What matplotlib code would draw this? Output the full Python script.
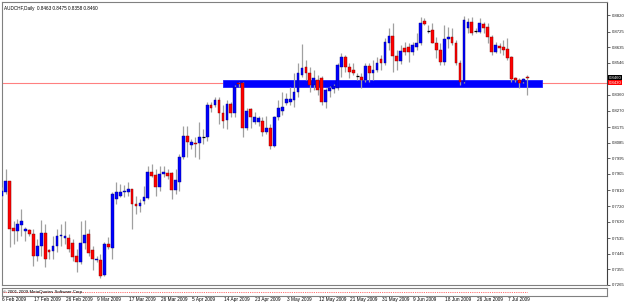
import matplotlib
matplotlib.use("Agg")
import matplotlib.pyplot as plt
import matplotlib.transforms as mtransforms

# ---------------- data (AUDCHF daily candles) ----------------
opens = [0.7777, 0.7800, 0.7863, 0.7594, 0.7577, 0.7611, 0.7577, 0.7582, 0.7559, 0.7433,
         0.7491, 0.7565, 0.7468, 0.7462, 0.7491, 0.7548, 0.7537, 0.7537, 0.7508, 0.7433,
         0.7399, 0.7508, 0.7559, 0.7468, 0.7411, 0.7411, 0.7325, 0.7502, 0.7479, 0.7760,
         0.7777, 0.7800, 0.7800, 0.7817, 0.7731, 0.7720, 0.7749, 0.7766, 0.7915, 0.7897,
         0.7829, 0.7903, 0.7909, 0.7909, 0.7812, 0.7857, 0.8001, 0.8121, 0.8070, 0.8081,
         0.8081, 0.8115, 0.8115, 0.8304, 0.8304, 0.8333, 0.8258, 0.8213, 0.8310, 0.8253,
         0.8430, 0.8430, 0.8167, 0.8276, 0.8201, 0.8201, 0.8207, 0.8144, 0.8172, 0.8064,
         0.8230, 0.8270, 0.8316, 0.8321, 0.8333, 0.8379, 0.8476, 0.8522, 0.8488, 0.8419,
         0.8448, 0.8459, 0.8321, 0.8385, 0.8396, 0.8402, 0.8522, 0.8579, 0.8522, 0.8505,
         0.8470, 0.8465, 0.8448, 0.8528, 0.8488, 0.8505, 0.8568, 0.8545, 0.8660, 0.8700,
         0.8585, 0.8556, 0.8631, 0.8637, 0.8608, 0.8637, 0.8660, 0.8786, 0.8728, 0.8734,
         0.8660, 0.8620, 0.8551, 0.8683, 0.8694, 0.8660, 0.8545, 0.8436, 0.8746, 0.8780,
         0.8728, 0.8723, 0.8768, 0.8751, 0.8694, 0.8608, 0.8642, 0.8637, 0.8625, 0.8579,
         0.8459, 0.8448, 0.8436, 0.8463]
highs = [0.7829, 0.7932, 0.7866, 0.7634, 0.7645, 0.7703, 0.7600, 0.7588, 0.7588, 0.7531,
         0.7640, 0.7617, 0.7474, 0.7548, 0.7588, 0.7617, 0.7634, 0.7559, 0.7531, 0.7474,
         0.7634, 0.7640, 0.7588, 0.7491, 0.7433, 0.7445, 0.7514, 0.7542, 0.7800, 0.7857,
         0.7846, 0.7840, 0.7857, 0.7820, 0.7777, 0.7760, 0.7835, 0.7949, 0.7961, 0.7932,
         0.7949, 0.7949, 0.7932, 0.7915, 0.7932, 0.8018, 0.8178, 0.8178, 0.8104, 0.8115,
         0.8201, 0.8161, 0.8321, 0.8321, 0.8350, 0.8345, 0.8304, 0.8333, 0.8321, 0.8419,
         0.8436, 0.8436, 0.8287, 0.8287, 0.8264, 0.8241, 0.8230, 0.8236, 0.8190, 0.8236,
         0.8333, 0.8379, 0.8373, 0.8408, 0.8488, 0.8545, 0.8654, 0.8562, 0.8522, 0.8505,
         0.8476, 0.8470, 0.8402, 0.8413, 0.8425, 0.8545, 0.8602, 0.8591, 0.8545, 0.8545,
         0.8488, 0.8488, 0.8545, 0.8545, 0.8562, 0.8579, 0.8591, 0.8688, 0.8746, 0.8774,
         0.8620, 0.8648, 0.8665, 0.8660, 0.8665, 0.8717, 0.8809, 0.8803, 0.8763, 0.8774,
         0.8694, 0.8660, 0.8763, 0.8751, 0.8746, 0.8677, 0.8562, 0.8814, 0.8803, 0.8809,
         0.8746, 0.8803, 0.8780, 0.8774, 0.8706, 0.8665, 0.8660, 0.8677, 0.8688, 0.8582,
         0.8465, 0.8459, 0.8459, 0.8475]
lows = [0.7760, 0.7789, 0.7485, 0.7502, 0.7519, 0.7548, 0.7519, 0.7548, 0.7376, 0.7405,
        0.7433, 0.7370, 0.7416, 0.7416, 0.7456, 0.7491, 0.7502, 0.7456, 0.7405, 0.7342,
        0.7388, 0.7474, 0.7433, 0.7353, 0.7399, 0.7307, 0.7319, 0.7474, 0.7416, 0.7731,
        0.7771, 0.7771, 0.7777, 0.7588, 0.7674, 0.7686, 0.7731, 0.7760, 0.7886, 0.7777,
        0.7806, 0.7886, 0.7875, 0.7760, 0.7789, 0.7806, 0.7989, 0.8001, 0.8047, 0.8001,
        0.7989, 0.8075, 0.8092, 0.8264, 0.8293, 0.8190, 0.8172, 0.8161, 0.8230, 0.8230,
        0.8408, 0.8115, 0.8155, 0.8172, 0.8190, 0.8178, 0.8121, 0.8132, 0.8047, 0.8058,
        0.8218, 0.8247, 0.8299, 0.8304, 0.8293, 0.8350, 0.8465, 0.8448, 0.8379, 0.8390,
        0.8362, 0.8304, 0.8287, 0.8345, 0.8373, 0.8390, 0.8465, 0.8493, 0.8459, 0.8476,
        0.8448, 0.8402, 0.8436, 0.8436, 0.8448, 0.8493, 0.8505, 0.8534, 0.8620, 0.8493,
        0.8505, 0.8539, 0.8591, 0.8551, 0.8591, 0.8620, 0.8648, 0.8763, 0.8717, 0.8660,
        0.8574, 0.8534, 0.8534, 0.8631, 0.8648, 0.8534, 0.8419, 0.8430, 0.8717, 0.8706,
        0.8717, 0.8717, 0.8717, 0.8660, 0.8591, 0.8602, 0.8602, 0.8591, 0.8562, 0.8436,
        0.8436, 0.8402, 0.8430, 0.8358]
closes = [0.7806, 0.7863, 0.7588, 0.7577, 0.7617, 0.7634, 0.7588, 0.7559, 0.7433, 0.7491,
          0.7565, 0.7416, 0.7456, 0.7491, 0.7548, 0.7554, 0.7548, 0.7474, 0.7428, 0.7399,
          0.7508, 0.7554, 0.7451, 0.7416, 0.7416, 0.7319, 0.7502, 0.7485, 0.7789, 0.7800,
          0.7800, 0.7806, 0.7817, 0.7731, 0.7720, 0.7737, 0.7771, 0.7915, 0.7892, 0.7829,
          0.7903, 0.7915, 0.7892, 0.7812, 0.7869, 0.8001, 0.8121, 0.8087, 0.8087, 0.8078,
          0.8115, 0.8115, 0.8304, 0.8287, 0.8333, 0.8258, 0.8207, 0.8310, 0.8253, 0.8408,
          0.8422, 0.8167, 0.8270, 0.8230, 0.8230, 0.8224, 0.8144, 0.8172, 0.8064, 0.8230,
          0.8287, 0.8293, 0.8339, 0.8339, 0.8379, 0.8488, 0.8516, 0.8488, 0.8419, 0.8459,
          0.8390, 0.8321, 0.8390, 0.8402, 0.8413, 0.8534, 0.8579, 0.8522, 0.8493, 0.8488,
          0.8470, 0.8448, 0.8528, 0.8488, 0.8505, 0.8545, 0.8545, 0.8665, 0.8700, 0.8585,
          0.8556, 0.8614, 0.8608, 0.8608, 0.8648, 0.8660, 0.8774, 0.8768, 0.8728, 0.8660,
          0.8620, 0.8551, 0.8683, 0.8694, 0.8660, 0.8545, 0.8436, 0.8791, 0.8780, 0.8717,
          0.8728, 0.8774, 0.8746, 0.8694, 0.8608, 0.8648, 0.8631, 0.8620, 0.8574, 0.8453,
          0.8448, 0.8430, 0.8453, 0.8460]

date_labels = ["6 Feb 2009", "17 Feb 2009", "26 Feb 2009", "9 Mar 2009", "17 Mar 2009",
               "26 Mar 2009", "5 Apr 2009", "14 Apr 2009", "23 Apr 2009", "3 May 2009",
               "12 May 2009", "21 May 2009", "31 May 2009", "9 Jun 2009", "18 Jun 2009",
               "26 Jun 2009", "7 Jul 2009"]
date_label_bars = [0, 8, 16, 24, 32, 40, 48, 56, 64, 72, 80, 88, 96, 104, 112, 120, 128]

price_ticks = [0.8820, 0.8725, 0.8635, 0.8546, 0.8360, 0.8270, 0.8175, 0.8085, 0.7995,
               0.7905, 0.7810, 0.7720, 0.7630, 0.7535, 0.7445, 0.7355, 0.7265]

title_text = "AUDCHF,Daily  0.8463 0.8475 0.8358 0.8460"
bid_price = 0.8460
line_price = 0.8430
zone_start, zone_end = 56.0, 136.8
zone_low, zone_high = 0.8408, 0.8444
copyright_text = "\u00a9 2001-2009 MetaQuotes Software Corp."

# ---------------- figure ----------------
W, H = 625, 304
fig = plt.figure(figsize=(W / 100, H / 100), dpi=100)
fig.patch.set_facecolor("white")
FONT = "Liberation Sans"

ax = fig.add_axes([2 / W, 1 - 285 / H, 605 / W, 283 / H])
ax.set_xlim(0.08, 153.2)
ax.set_ylim(0.7269, 0.8895)

# support/resistance line & zone
ax.axhline(line_price, color="#ff8080", lw=0.8, zorder=1)
ax.add_patch(plt.Rectangle((zone_start, zone_low), zone_end - zone_start,
                           zone_high - zone_low, facecolor="#0000ff",
                           edgecolor="#2020ff", lw=0.6, zorder=2))

# candles
UP, DOWN, WICK = "#0000ff", "#ff0000", "#a0a0a0"
bw = 0.7
for i in range(len(opens)):
    o, h, l, c = opens[i], highs[i], lows[i], closes[i]
    ax.vlines(i, l, h, color=WICK, lw=0.9, zorder=3)
    if abs(c - o) < 1e-9:
        ax.hlines(o, i - bw / 2, i + bw / 2, color="#000000", lw=0.9, zorder=4)
        continue
    col = UP if c > o else DOWN
    edge = "#000080" if c > o else "#800000"
    ax.bar(i, abs(c - o), bottom=min(o, c), width=bw, color=col,
           edgecolor=edge, linewidth=0.3, zorder=4)

# axes styling
for side in ["left", "top", "bottom"]:
    ax.spines[side].set_color("#808080")
    ax.spines[side].set_linewidth(0.8)
ax.spines["right"].set_color("#404040")
ax.spines["right"].set_linewidth(0.8)
ax.set_xticks([])
ax.yaxis.tick_right()
ax.set_yticks(price_ticks)
ax.set_yticklabels([f"{v:.4f}" for v in price_ticks])
ax.tick_params(axis="y", length=2, width=0.5, pad=1.2, labelsize=3.1,
               colors="#202020")
for lbl in ax.get_yticklabels():
    lbl.set_fontfamily(FONT)

trans_r = mtransforms.blended_transform_factory(ax.transAxes, ax.transData)
ax.text(1.003, bid_price, f"{bid_price:.4f}", transform=trans_r, fontsize=3.1,
        family=FONT, color="white", va="center", ha="left",
        bbox=dict(boxstyle="square,pad=0.15", fc="black", ec="none"))
ax.text(1.003, line_price, f"{line_price:.4f}", transform=trans_r, fontsize=3.1,
        family=FONT, color="white", va="center", ha="left",
        bbox=dict(boxstyle="square,pad=0.15", fc="#ff0000", ec="none"))

ax.text(0.003, 0.985, title_text, transform=ax.transAxes, fontsize=3.3,
        family=FONT, va="top", ha="left", color="black")

# indicator sub-window
ax2 = fig.add_axes([2 / W, 1 - 296 / H, 605 / W, 8 / H])
ax2.set_xlim(ax.get_xlim())
ax2.set_ylim(0, 1)
ax2.set_xticks([])
ax2.set_yticks([])
for side in ax2.spines:
    ax2.spines[side].set_color("#808080")
    ax2.spines[side].set_linewidth(0.8)
ax2.hlines(0.45, 0, len(opens) - 1, color="#ff4040", lw=0.6, linestyles=(0, (1, 1.2)))
ax2.text(0.002, 0.5, copyright_text, transform=ax2.transAxes, fontsize=3.2,
         family=FONT, va="center", ha="left", color="black")

# date labels
trans_b = mtransforms.blended_transform_factory(ax.transData, fig.transFigure)
for b, t in zip(date_label_bars, date_labels):
    ax.text(b + 0.2, 1 - 299.5 / H, t, transform=trans_b, fontsize=3.4,
            family=FONT, va="center", ha="left", color="black", clip_on=False)

fig.savefig("out.png", dpi=100, facecolor="white")
